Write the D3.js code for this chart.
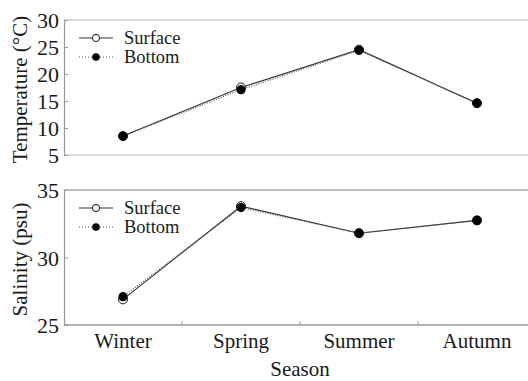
<!DOCTYPE html>
<html>
<head>
<meta charset="utf-8">
<script src="https://cdn.jsdelivr.net/npm/d3@7/dist/d3.min.js"></script>
<style>
  html, body { margin: 0; padding: 0; background: #fff; }
  svg { display: block; }
</style>
</head>
<body>
<svg id="chart" width="528" height="381"></svg>
<script>
// Seasonal water properties at the surface and at the bottom
const seasons = ["Winter", "Spring", "Summer", "Autumn"];
const tempSurface = [8.5, 17.5, 24.5, 14.6];
const tempBottom  = [8.5, 17.1, 24.4, 14.6];
const salSurface  = [26.9, 33.8, 31.8, 32.75];
const salBottom   = [27.1, 33.7, 31.8, 32.75];
const tempTicks = [5, 10, 15, 20, 25, 30];
const salTicks  = [25, 30, 35];

const FONT = "'Liberation Serif', 'Times New Roman', Times, serif";
const INK = "#1a1a1a";

const svg = d3.select("#chart");
const left = 64, right = 536;

const x = d3.scaleBand().domain(seasons).range([left, right]);
const xc = d => x(d) + x.bandwidth() / 2;

const panels = [
  { top: 20, bottom: 155, domain: [5, 30], ticks: tempTicks,
    surface: tempSurface, bottom_: tempBottom, title: "Temperature (°C)",
    frameTop: "#cfcfcf", frameBottom: "#cfcfcf" },
  { top: 190, bottom: 325, domain: [25, 35], ticks: salTicks,
    surface: salSurface, bottom_: salBottom, title: "Salinity (psu)",
    frameTop: "#aaa", frameBottom: "#999" }
];

function label(sel, size) {
  return sel.attr("font-family", FONT).attr("font-size", size).attr("fill", INK);
}

panels.forEach((p, i) => {
  const y = d3.scaleLinear().domain(p.domain).range([p.bottom, p.top]);
  const g = svg.append("g");

  // frame: top and bottom rules plus the left spine
  g.append("line").attr("x1", left).attr("x2", right)
    .attr("y1", p.top).attr("y2", p.top)
    .attr("stroke", p.frameTop).attr("stroke-width", 1.5);
  g.append("line").attr("x1", left).attr("x2", right)
    .attr("y1", p.bottom).attr("y2", p.bottom)
    .attr("stroke", p.frameBottom).attr("stroke-width", 1.5);

  // y axis with small inward ticks
  const yAxis = d3.axisLeft(y).tickValues(p.ticks).tickSize(-4).tickPadding(5)
    .tickFormat(d3.format("d"));
  const ya = g.append("g").attr("transform", `translate(${left},0)`).call(yAxis)
    .attr("font-family", FONT).attr("font-size", 22);
  ya.select(".domain").attr("stroke", "#999").attr("stroke-width", 1.2);
  ya.selectAll(".tick line").attr("stroke", "#999");
  ya.selectAll(".tick text").attr("fill", INK).attr("dy", "0.35em");

  // y title
  label(g.append("text"), 21)
    .attr("transform", `translate(27,${(p.top + p.bottom) / 2 + 2}) rotate(-90)`)
    .attr("text-anchor", "middle")
    .text(p.title);

  const line = d3.line().x((d, j) => xc(seasons[j])).y(d => y(d));

  // surface series: solid line, open markers
  g.append("path").datum(p.surface).attr("d", line)
    .attr("fill", "none").attr("stroke", "#333").attr("stroke-width", 1.1);
  // bottom series: dotted line, filled markers
  g.append("path").datum(p.bottom_).attr("d", line)
    .attr("fill", "none").attr("stroke", "#555").attr("stroke-width", 1.2)
    .attr("stroke-dasharray", "1,1.5");

  g.selectAll(".surf").data(p.surface).join("circle")
    .attr("cx", (d, j) => xc(seasons[j])).attr("cy", d => y(d))
    .attr("r", 4.5).attr("fill", "#fff").attr("stroke", "#111").attr("stroke-width", 1);
  g.selectAll(".bot").data(p.bottom_).join("circle")
    .attr("cx", (d, j) => xc(seasons[j])).attr("cy", d => y(d))
    .attr("r", 4.6).attr("fill", "#000");

  // legend
  const lg = g.append("g");
  const ly1 = p.top + 18, ly2 = p.top + 37;
  lg.append("line").attr("x1", 79).attr("x2", 113).attr("y1", ly1).attr("y2", ly1)
    .attr("stroke", "#333").attr("stroke-width", 1);
  lg.append("circle").attr("cx", 96).attr("cy", ly1).attr("r", 3.6)
    .attr("fill", "#fff").attr("stroke", "#111").attr("stroke-width", 1);
  lg.append("line").attr("x1", 79).attr("x2", 113).attr("y1", ly2).attr("y2", ly2)
    .attr("stroke", "#555").attr("stroke-width", 1.2).attr("stroke-dasharray", "1,2");
  lg.append("circle").attr("cx", 96).attr("cy", ly2).attr("r", 3.8).attr("fill", "#000");
  label(lg.append("text"), 18.5).attr("x", 124).attr("y", ly1 + 6).text("Surface");
  label(lg.append("text"), 18.5).attr("x", 124).attr("y", ly2 + 6).text("Bottom");

  // x axis on the lower panel: ticks at category boundaries, labels centred
  if (i === 1) {
    const bounds = seasons.slice(1).map(s => x(s));
    g.selectAll(".xt").data(bounds).join("line")
      .attr("x1", d => d).attr("x2", d => d)
      .attr("y1", p.bottom).attr("y2", p.bottom - 4)
      .attr("stroke", "#999");
    label(g.selectAll(".xl").data(seasons).join("text"), 21)
      .attr("x", d => xc(d)).attr("y", p.bottom + 23)
      .attr("text-anchor", "middle")
      .text(d => d);
    label(g.append("text"), 21).attr("x", (left + right) / 2).attr("y", 376)
      .attr("text-anchor", "middle").text("Season");
  }
});
</script>
</body>
</html>
